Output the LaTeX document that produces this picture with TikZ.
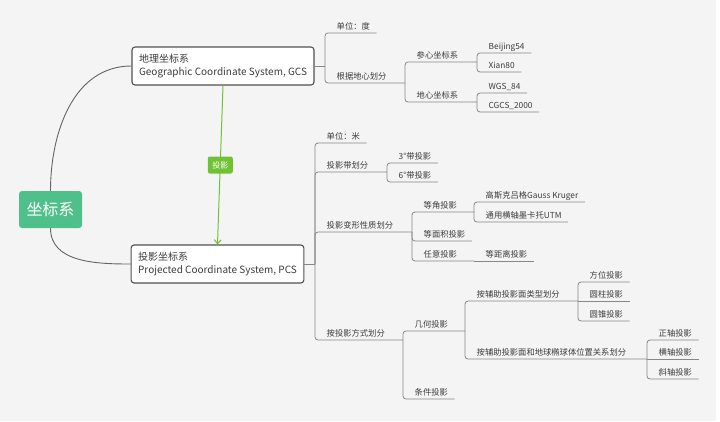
\documentclass[tikz,border=0pt]{standalone}
\usepackage{fontspec}
\newfontfamily\cjk{Noto Sans CJK SC}
\usepackage{tikz}
\usetikzlibrary{arrows.meta}
\definecolor{bgc}{RGB}{244,244,244}
\definecolor{linec}{RGB}{135,135,135}
\definecolor{curvec}{RGB}{100,100,100}
\definecolor{boxc}{RGB}{80,80,80}
\definecolor{txtc}{RGB}{60,60,60}
\definecolor{rootc}{RGB}{80,192,138}
\definecolor{projc}{RGB}{112,194,52}

\begin{document}
\begin{tikzpicture}[x=1pt,y=-1pt,
    topic/.style={anchor=south west,inner xsep=6.5pt,inner ysep=1.5pt,text height=7pt,text depth=1.5pt,text=txtc,font=\cjk\fontsize{8.3}{10}\selectfont},
    branch/.style={draw=linec,line width=.8pt,rounded corners=3pt},
    sys/.style={draw=boxc,line width=1.1pt,fill=white,rounded corners=3pt,align=left,inner xsep=7pt,minimum height=38pt,text=txtc,font=\cjk\fontsize{10}{13}\selectfont},
    rootbox/.style={fill=rootc,text=white,rounded corners=3pt,minimum width=63pt,minimum height=37pt,font=\cjk\fontsize{16}{18}\selectfont},
    tag/.style={fill=projc,text=white,rounded corners=2pt,minimum width=25pt,minimum height=17pt,inner sep=2pt,font=\cjk\fontsize{8}{9}\selectfont}]
    \fill[white] (0,0) rectangle (720,421);
    \fill[bgc] (0,0) rectangle (716,421);

    \node[rootbox] (root) at (50.5,209.5) {坐标系};
    \node[sys] (gcs) at (223,66) {地理坐标系\\Geographic Coordinate System, GCS};
    \node[sys] (pcs) at (217.5,264) {投影坐标系\\Projected Coordinate System, PCS};
    \draw[curvec,line width=.9pt] (root.north) to[out=90,in=180] (gcs.west);
    \draw[curvec,line width=.9pt] (root.south) to[out=-90,in=180] (pcs.west);
    \draw[projc,line width=1pt,-{Straight Barb[length=4pt,width=7pt]}] (gcs.south) -- node[tag] (proj) {投影} (pcs.north);

    \coordinate (gb) at (325,66);
    \coordinate (g2b) at (405,83);
    \coordinate (g21b) at (477,62);
    \coordinate (g22b) at (477,102);
    \node[topic] (g1) at (330,33) {单位：度};
    \node[topic] (g2) at (330,83) {根据地心划分};
    \node[topic] (g21) at (410,62) {参心坐标系};
    \node[topic] (g22) at (410,102) {地心坐标系};
    \node[topic] (g211) at (482,53) {Beijing54};
    \node[topic] (g212) at (482,72) {Xian80};
    \node[topic] (g221) at (482,93) {WGS\_84};
    \node[topic] (g222) at (482,112) {CGCS\_2000};
    \draw[branch] (gcs.east) -- (gb);
    \draw[branch] (gb) |- (g1.south east);
    \draw[branch] (gb) |- (g2b);
    \draw[branch] (g2b) |- (g21b);
    \draw[branch] (g2b) |- (g22b);
    \draw[branch] (g21b) |- (g211.south east);
    \draw[branch] (g21b) |- (g212.south east);
    \draw[branch] (g22b) |- (g221.south east);
    \draw[branch] (g22b) |- (g222.south east);

    \coordinate (pb) at (315,264);
    \coordinate (p2b) at (387,172);
    \coordinate (p3b) at (412,232);
    \coordinate (p31b) at (474,212);
    \coordinate (p33b) at (474,261);
    \coordinate (p4b) at (403,340);
    \coordinate (p41b) at (465,331);
    \coordinate (p411b) at (578,301);
    \coordinate (p412b) at (647,359);
    \node[topic] (p1) at (320,143) {单位：米};
    \node[topic] (p2) at (320,172) {投影带划分};
    \node[topic] (p21) at (392,163) {3°带投影};
    \node[topic] (p22) at (392,182) {6°带投影};
    \node[topic] (p3) at (320,232) {投影变形性质划分};
    \node[topic] (p31) at (417,212) {等角投影};
    \node[topic] (p311) at (479,202) {高斯克吕格Gauss Kruger};
    \node[topic] (p312) at (479,222) {通用横轴墨卡托UTM};
    \node[topic] (p32) at (417,241) {等面积投影};
    \node[topic] (p33) at (417,261) {任意投影};
    \node[topic] (p331) at (479,261) {等距离投影};
    \node[topic] (p4) at (320,340) {按投影方式划分};
    \node[topic] (p41) at (408,331) {几何投影};
    \node[topic] (p411) at (470,301) {按辅助投影面类型划分};
    \node[topic] (p4111) at (583,282) {方位投影};
    \node[topic] (p4112) at (583,301) {圆柱投影};
    \node[topic] (p4113) at (583,321) {圆锥投影};
    \node[topic] (p412) at (470,359) {按辅助投影面和地球椭球体位置关系划分};
    \node[topic] (p4121) at (652,340) {正轴投影};
    \node[topic] (p4122) at (652,359) {横轴投影};
    \node[topic] (p4123) at (652,379) {斜轴投影};
    \node[topic] (p42) at (408,399) {条件投影};
    \draw[branch] (pcs.east) -- (pb);
    \draw[branch] (pb) |- (p1.south east);
    \draw[branch] (pb) |- (p2b);
    \draw[branch] (pb) |- (p3b);
    \draw[branch] (pb) |- (p4b);
    \draw[branch] (p2b) |- (p21.south east);
    \draw[branch] (p2b) |- (p22.south east);
    \draw[branch] (p3b) |- (p31b);
    \draw[branch] (p3b) |- (p32.south east);
    \draw[branch] (p3b) |- (p33b);
    \draw[branch] (p31b) |- (p311.south east);
    \draw[branch] (p31b) |- (p312.south east);
    \draw[branch] (p33b) -- (p331.south east);
    \draw[branch] (p4b) |- (p41b);
    \draw[branch] (p4b) |- (p42.south east);
    \draw[branch] (p41b) |- (p411b);
    \draw[branch] (p41b) |- (p412b);
    \draw[branch] (p411b) |- (p4111.south east);
    \draw[branch] (p411b) -- (p4112.south east);
    \draw[branch] (p411b) |- (p4113.south east);
    \draw[branch] (p412b) |- (p4121.south east);
    \draw[branch] (p412b) -- (p4122.south east);
    \draw[branch] (p412b) |- (p4123.south east);
\end{tikzpicture}
\end{document}
